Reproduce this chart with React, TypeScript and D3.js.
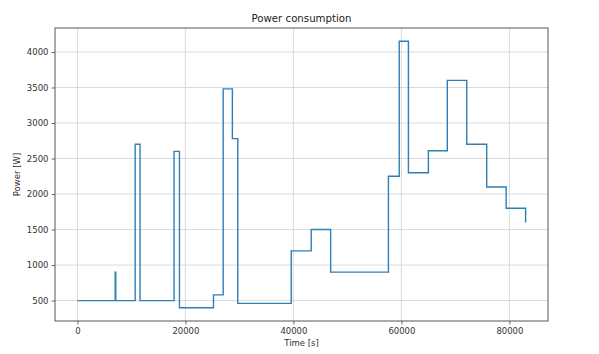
import React, { useRef, useEffect } from 'react';
import * as d3 from 'd3';

// step-post data: value holds from time[i] until time[i+1]
const times = [0, 7000, 7100, 10700, 11600, 17900, 18900, 25200, 27000, 28700, 29700, 39600, 43300, 46900, 57600, 59600, 61300, 65000, 68500, 72100, 75800, 79400, 83000];
const power = [500, 900, 500, 2700, 500, 2600, 400, 580, 3480, 2780, 460, 1200, 1500, 900, 2250, 4150, 2300, 2610, 3600, 2700, 2100, 1800, 1600];
const xTicks = [0, 20000, 40000, 60000, 80000];
const yTicks = [500, 1000, 1500, 2000, 2500, 3000, 3500, 4000];

const W = 599;
const H = 354;
const FONT = 'DejaVu Sans, sans-serif';

const App: React.FC = () => {
  const svgRef = useRef<SVGSVGElement>(null);

  useEffect(() => {
    const margin = { top: 28, right: 51, bottom: 33, left: 55 };
    const svg = d3.select(svgRef.current);
    svg.selectAll('*').remove();

    const pts = times.map((t, i) => ({ t, p: power[i] }));
    const [x0, x1] = d3.extent(times) as [number, number];
    const [y0, y1] = d3.extent(power) as [number, number];
    const xPad = (x1 - x0) * 0.05;
    const yPad = (y1 - y0) * 0.05;

    const xScale = d3.scaleLinear().domain([x0 - xPad, x1 + xPad]).range([margin.left, W - margin.right]);
    const yScale = d3.scaleLinear().domain([y0 - yPad, y1 + yPad]).range([H - margin.bottom, margin.top]);

    svg.append('rect').attr('width', W).attr('height', H).attr('fill', 'white');

    // grid
    svg.append('g')
      .selectAll('line')
      .data(xTicks)
      .join('line')
      .attr('x1', (d) => xScale(d))
      .attr('x2', (d) => xScale(d))
      .attr('y1', margin.top)
      .attr('y2', H - margin.bottom)
      .attr('stroke', '#d6d6d6')
      .attr('stroke-width', 0.9);
    svg.append('g')
      .selectAll('line')
      .data(yTicks)
      .join('line')
      .attr('x1', margin.left)
      .attr('x2', W - margin.right)
      .attr('y1', (d) => yScale(d))
      .attr('y2', (d) => yScale(d))
      .attr('stroke', '#d6d6d6')
      .attr('stroke-width', 0.9);

    const line = d3
      .line<{ t: number; p: number }>()
      .x((d) => xScale(d.t))
      .y((d) => yScale(d.p))
      .curve(d3.curveStepAfter);

    svg.append('path')
      .datum(pts)
      .attr('fill', 'none')
      .attr('stroke', '#2f7fb5')
      .attr('stroke-width', 1.4)
      .attr('d', line);

    // axes
    const xAxis = svg.append('g')
      .attr('transform', `translate(0,${H - margin.bottom})`)
      .call(d3.axisBottom(xScale).tickValues(xTicks).tickSize(3.5).tickPadding(3).tickFormat(d3.format('d')));
    const yAxis = svg.append('g')
      .attr('transform', `translate(${margin.left},0)`)
      .call(d3.axisLeft(yScale).tickValues(yTicks).tickSize(3.5).tickPadding(3).tickFormat(d3.format('d')));
    [xAxis, yAxis].forEach((g) => {
      g.select('.domain').remove();
      g.selectAll('line').attr('stroke', '#444').attr('stroke-width', 0.8);
      g.selectAll('text').attr('font-family', FONT).attr('font-size', 8.5).attr('fill', '#333');
    });

    svg.append('rect')
      .attr('x', margin.left)
      .attr('y', margin.top)
      .attr('width', W - margin.left - margin.right)
      .attr('height', H - margin.top - margin.bottom)
      .attr('fill', 'none')
      .attr('stroke', '#444')
      .attr('stroke-width', 0.9);

    const cx = (margin.left + W - margin.right) / 2;
    svg.append('text')
      .attr('x', cx)
      .attr('y', 22)
      .attr('text-anchor', 'middle')
      .attr('font-family', FONT)
      .attr('font-size', 10.2)
      .attr('fill', '#222')
      .text('Power consumption');

    svg.append('text')
      .attr('x', cx)
      .attr('y', 346)
      .attr('text-anchor', 'middle')
      .attr('font-family', FONT)
      .attr('font-size', 8.5)
      .attr('fill', '#333')
      .text('Time [s]');

    svg.append('text')
      .attr('transform', `translate(20,${(margin.top + H - margin.bottom) / 2}) rotate(-90)`)
      .attr('text-anchor', 'middle')
      .attr('font-family', FONT)
      .attr('font-size', 8.5)
      .attr('fill', '#333')
      .text('Power [W]');
  }, []);

  return (
    <div style={{ position: 'absolute', left: 0, top: 0 }}>
      <svg ref={svgRef} width={W} height={H} style={{ display: 'block' }} />
    </div>
  );
};

export default App;
